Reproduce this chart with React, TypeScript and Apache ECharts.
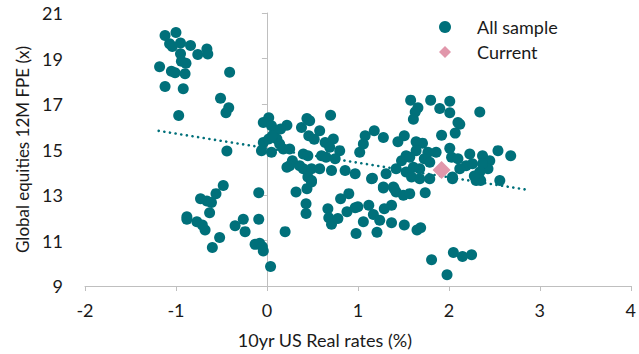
import React, { useEffect, useRef } from "react";
import * as echarts from "echarts";

// 10yr US real rate (%)
const realRate: number[] = [
  -1.12, -1.0, -1.07, -1.04, -0.95, -0.84, -0.66, -0.65, -0.76, -0.95, -0.94, -0.89, -1.18, -1.05, -1.01, -0.9, -0.41, -1.12, -0.92, -0.51, -0.42, -0.45, -0.97,
  -0.48, -0.56, -0.73, -0.66, -0.61, -0.09, -0.63, -0.88, -0.88, -0.77, -0.71, -0.68, -0.26, -0.35, -0.24, -0.09, -0.52, -0.6, -0.13, -0.08, -0.05, -0.04, 0.04, -0.44,
  0.02, -0.04, 0.05, 0.09, 0.22, 0.44, 0.47, 0.38, 0.58, 0.46, 0.7, -0.04, 0.02, 0.11, 0.14, 0.18, 0.25, -0.06, 0.05, 0.64, 0.73, 0.69, 0.6, 0.8, 0.4, 0.45, 0.65, 0.75, 0.28, 0.36, 0.25, 0.4, 0.49, 0.58, 0.71, 0.45, 0.49, 0.22, 0.86, 0.97, 1.16, 1.02, 1.06, 1.08, 1.18, 0.44, 0.15, 0.06, 0.52,
  0.2, 0.32, 0.49, 0.43, 0.43, 0.67, 0.68, 0.71, 0.78, 0.81, 0.9, 0.88, 0.97, 1.0, 1.06, 0.98, 1.12, 1.17, 1.24, 1.21, 1.28, 1.29, 1.37, 1.37, 1.39, 1.42, 1.5, 1.57, 1.51, 1.65, 1.69, 1.74, 1.15, 1.81, 1.98,
  2.05, 2.15, 2.25, 2.56, 2.3, 2.35, 2.04,
  1.58, 1.8, 2.01, 1.66, 1.63, 1.61, 1.9, 2.01, 2.34, 2.1, 2.12, 2.07, 1.92, 1.28, 1.44, 1.51, 1.64, 1.71, 1.64, 1.53, 1.48, 1.77, 1.86, 2.01, 2.03, 2.1, 2.23, 2.37, 2.54, 2.68, 2.45, 2.43, 2.19, 2.12, 2.26, 2.37, 2.34, 2.28, 2.04, 1.79, 1.68, 1.61, 1.53, 1.59, 1.68, 1.57, 1.73, 1.79, 1.42, 1.31, 1.28, 1.4,
];

// Global equities 12M forward P/E (x)
const forwardPE: number[] = [
  20.01, 20.14, 19.65, 19.53, 19.68, 19.57, 19.42, 19.2, 19.18, 19.21, 18.88, 18.79, 18.64, 18.44, 18.37, 18.33, 18.4, 17.77, 17.67, 17.25, 16.84, 16.62, 16.49,
  13.42, 13.06, 12.84, 12.74, 12.67, 13.1, 12.22, 12.04, 11.93, 11.82, 11.68, 11.46, 11.93, 11.65, 11.39, 11.93, 11.13, 10.69, 10.83, 10.88, 10.73, 10.54, 9.86, 14.93,
  16.4, 16.19, 16.04, 15.82, 16.07, 16.36, 16.26, 15.97, 15.82, 15.6, 16.51, 15.31, 15.46, 15.46, 15.24, 15.02, 15.02, 14.95, 14.88, 15.31, 15.46, 15.1, 14.73, 14.95, 14.8, 14.73, 14.66, 14.59, 14.51, 14.29, 14.29, 14.15, 14.15, 14.15, 14.08, 13.79, 13.64, 14.22, 14.08, 13.93, 13.74, 14.88, 15.24, 15.6, 15.82, 13.28, 15.9, 15.6, 15.45,
  11.39, 13.13, 13.57, 12.62, 12.19, 12.4, 12.0, 11.71, 11.97, 12.84, 13.06, 12.26, 12.44, 12.48, 11.82, 11.31, 12.55, 12.14, 11.89, 11.36, 13.31, 12.4, 12.55, 11.78, 13.35, 13.13, 12.99, 13.06, 11.68, 11.46, 11.56, 13.1, 13.71, 10.15, 9.49,
  10.47, 10.3, 10.37, 13.64, 13.64, 13.64, 13.71,
  17.17, 17.17, 17.12, 16.84, 16.65, 16.33, 16.8, 16.62, 16.65, 16.19, 16.11, 15.72, 15.63, 15.53, 15.34, 15.6, 15.34, 15.28, 14.95, 14.73, 14.51, 14.88, 14.88, 15.05, 14.66, 14.59, 14.8, 14.73, 14.95, 14.73, 14.51, 14.15, 14.29, 14.15, 14.37, 14.37, 14.01, 13.83, 13.79, 13.71, 14.15, 14.22, 14.01, 13.79, 13.71, 14.66, 14.59, 14.44, 14.15, 13.93, 13.35, 13.28,
];

const currentPoint: number[] = [1.92, 14.1];

// Linear trendline end points
const trendX: number[] = [-1.19, 2.86];
const trendY: number[] = [15.82, 13.23];

const xTicks = { min: -2, max: 4, interval: 1 };
const yTicks = { min: 9, max: 21, interval: 2 };

const TEAL = "#00707a";
const PINK = "#e197ab";
const FONT = "Lato";
const FS = 18;
const TXT = "#1a1a1a";

export default function App() {
  const ref = useRef<HTMLDivElement>(null);

  useEffect(() => {
    if (!ref.current) return;
    const chart = echarts.init(ref.current, null, { renderer: "svg" });
    const sample = realRate.map((x, i) => [x, forwardPE[i]]);
    const trend = trendX.map((x, i) => [x, trendY[i]]);

    chart.setOption({
      animation: false,
      textStyle: { fontFamily: FONT },
      grid: { left: 85, right: 7, top: 13, bottom: 66 },
      legend: {
        orient: "vertical",
        left: 434,
        top: 13,
        itemWidth: 12,
        itemHeight: 12,
        itemGap: 7,
        textStyle: { fontFamily: FONT, fontSize: FS, color: TXT, padding: [0, 0, 0, 21] },
        data: [
          { name: "All sample", icon: "circle" },
          { name: "Current", icon: "diamond" },
        ],
      },
      xAxis: {
        type: "value",
        min: xTicks.min,
        max: xTicks.max,
        interval: xTicks.interval,
        name: "10yr US Real rates (%)",
        nameLocation: "middle",
        nameGap: 45,
        nameTextStyle: { fontFamily: FONT, fontSize: FS, color: TXT, padding: [0, 66, 0, 0] },
        splitLine: { show: false },
        axisLine: { onZero: false, lineStyle: { color: "#bfbfbf", width: 1 } },
        axisTick: { show: true, length: 5, lineStyle: { color: "#bfbfbf" } },
        axisLabel: { fontFamily: FONT, fontSize: FS, color: TXT, margin: 15 },
      },
      yAxis: [
        {
          type: "value",
          min: yTicks.min,
          max: yTicks.max,
          interval: yTicks.interval,
          position: "left",
          splitLine: { show: false },
          axisLine: { show: true, onZero: true, lineStyle: { color: "#bfbfbf", width: 1 } },
          axisTick: { show: true, length: 5, lineStyle: { color: "#bfbfbf" } },
          axisLabel: { show: false },
        },
        {
          type: "value",
          min: yTicks.min,
          max: yTicks.max,
          interval: yTicks.interval,
          position: "left",
          name: "Global equities 12M FPE (x)",
          nameLocation: "middle",
          nameGap: 50,
          nameRotate: 90,
          nameTextStyle: { fontFamily: FONT, fontSize: 17, color: TXT },
          splitLine: { show: false },
          axisLine: { show: false },
          axisTick: { show: false },
          axisLabel: { fontFamily: FONT, fontSize: FS, color: TXT, margin: 22 },
        },
      ],
      series: [
        {
          name: "All sample",
          type: "scatter",
          symbol: "circle",
          symbolSize: 11,
          itemStyle: { color: TEAL, opacity: 1 },
          data: sample,
          z: 3,
        },
        {
          name: "Trend",
          type: "line",
          data: trend,
          symbol: "none",
          lineStyle: { color: TEAL, width: 2.6, type: [0.1, 5.6], cap: "round" },
          z: 2,
          silent: true,
        },
        {
          name: "Current",
          type: "scatter",
          symbol: "diamond",
          symbolSize: 18,
          itemStyle: { color: PINK, opacity: 1 },
          data: [currentPoint],
          z: 4,
        },
      ],
    });
    return () => chart.dispose();
  }, []);

  return <div ref={ref} style={{ width: 639, height: 354, position: "absolute", left: 0, top: 0 }} />;
}
